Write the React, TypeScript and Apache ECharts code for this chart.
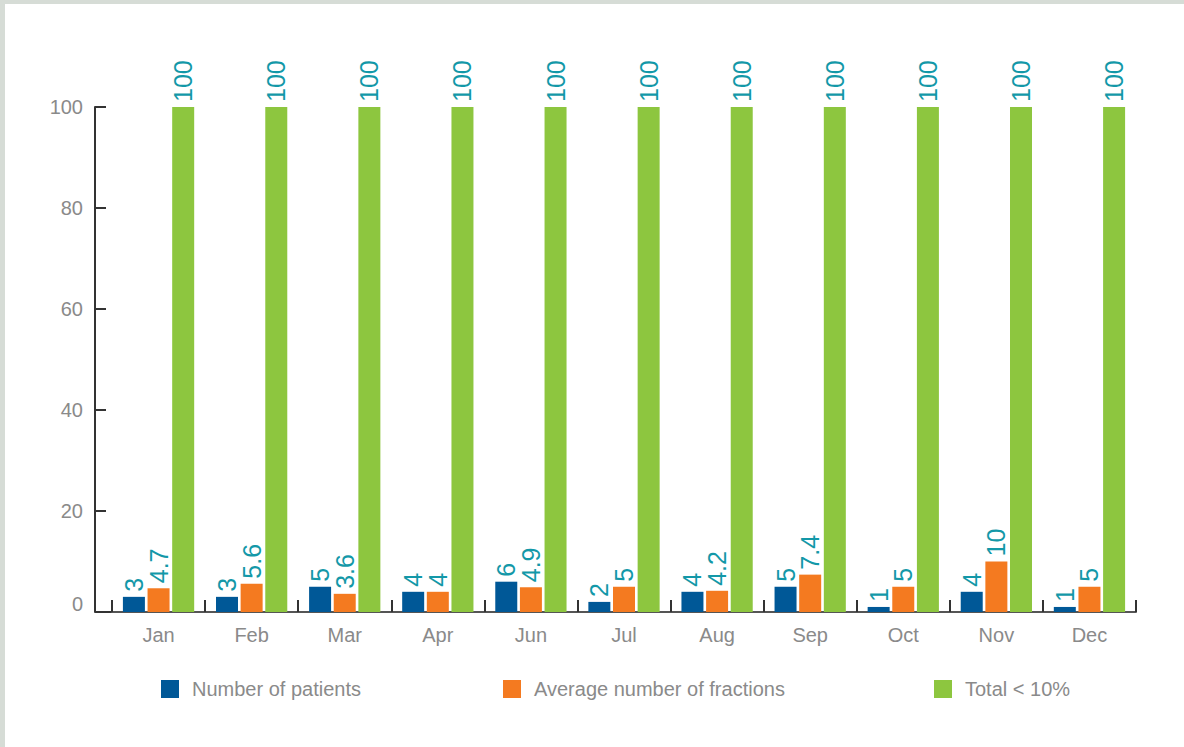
import React, { useEffect, useRef } from "react";
import * as echarts from "echarts";

const categories = ["Jan", "Feb", "Mar", "Apr", "Jun", "Jul", "Aug", "Sep", "Oct", "Nov", "Dec"];
const patients = [3, 3, 5, 4, 6, 2, 4, 5, 1, 4, 1];
const fractions = [4.7, 5.6, 3.6, 4, 4.9, 5, 4.2, 7.4, 5, 10, 5];
const totals = [100, 100, 100, 100, 100, 100, 100, 100, 100, 100, 100];
const seriesNames = ["Number of patients", "Average number of fractions", "Total < 10%"];
const colors = ["#005897", "#f47a20", "#8dc63f"];

const FONT = "'Liberation Sans', Arial, sans-serif";

export default function App() {
  const ref = useRef<HTMLDivElement>(null);
  useEffect(() => {
    if (!ref.current) return;
    const chart = echarts.init(ref.current, null, { renderer: "svg" });
    const label = {
      show: true,
      position: "top",
      rotate: 90,
      align: "left",
      verticalAlign: "middle",
      distance: 5,
      color: "#1398a8",
      fontSize: 25,
      fontFamily: FONT,
    };
    const legendBase = {
      orient: "horizontal",
      top: 679,
      padding: 0,
      itemWidth: 18,
      itemHeight: 18,
      icon: "rect",
      textStyle: { color: "#8a8a8a", fontSize: 20, fontFamily: FONT, padding: [0, 0, 0, 8] },
    };
    const datas = [patients, fractions, totals];
    chart.setOption({
      animation: false,
      backgroundColor: "#ffffff",
      graphic: [
        { type: "rect", left: 0, top: 0, shape: { width: 1184, height: 4 }, style: { fill: "#d6dcd6" } },
        { type: "rect", left: 0, top: 0, shape: { width: 5, height: 747 }, style: { fill: "#d6dcd6" } },
        { type: "line", shape: { x1: 95, y1: 612, x2: 113, y2: 612 }, style: { stroke: "#333", lineWidth: 2 } },
      ],
      legend: [
        { ...legendBase, left: 161, data: [seriesNames[0]] },
        { ...legendBase, left: 503, data: [seriesNames[1]] },
        { ...legendBase, left: 934, data: [seriesNames[2]] },
      ],
      grid: { left: 112, right: 48, top: 107, bottom: 135, containLabel: false },
      xAxis: {
        type: "category",
        data: categories,
        axisLine: { lineStyle: { color: "#555", width: 2 } },
        axisTick: { show: true, inside: true, length: 12, lineStyle: { color: "#333", width: 2 } },
        axisLabel: { color: "#8a8a8a", fontSize: 20, fontFamily: FONT, margin: 13 },
      },
      yAxis: {
        type: "value",
        min: 0,
        max: 100,
        interval: 20,
        offset: 17,
        splitLine: { show: false },
        axisLine: { show: true, lineStyle: { color: "#333", width: 2 } },
        axisTick: { show: true, inside: true, length: 11, lineStyle: { color: "#333", width: 2 } },
        axisLabel: {
          color: "#8a8a8a",
          fontSize: 20,
          fontFamily: FONT,
          margin: 12,
          formatter: (v: number) => (v === 0 ? "{z|0}" : String(v)),
          rich: { z: { color: "#8a8a8a", fontSize: 20, fontFamily: FONT, padding: [0, 0, 16, 0] } },
        },
      },
      series: seriesNames.map((name, i) => ({
        name,
        type: "bar",
        data: datas[i],
        barWidth: 22,
        barGap: "12%",
        itemStyle: { color: colors[i] },
        label,
      })),
    });
    return () => chart.dispose();
  }, []);
  return (
    <div style={{ position: "fixed", left: 0, top: 0, width: 1184, height: 747 }}>
      <div ref={ref} style={{ width: 1184, height: 747 }} />
    </div>
  );
}
